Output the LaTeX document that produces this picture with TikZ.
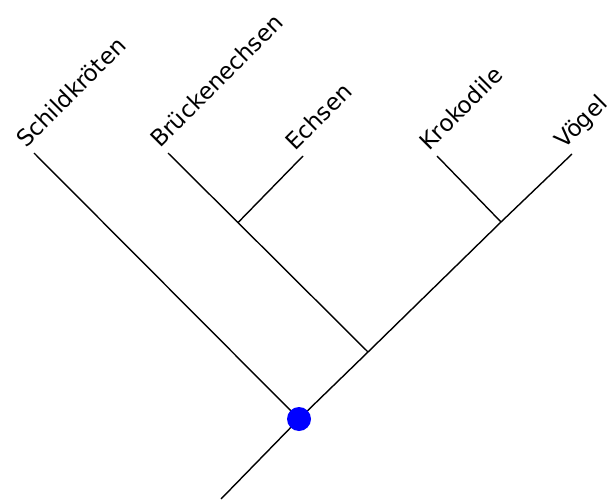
\documentclass[tikz,border=0pt]{standalone}
\usepackage{fontspec}
\setmainfont{DejaVu Sans}
\begin{document}
\begin{tikzpicture}[x=1pt,y=1pt,
  branch/.style={line width=1.4pt, black},
  taxon/.style={rotate=45, anchor=base west, inner sep=0pt, font=\fontsize{23}{23}\selectfont},
  rootdot/.style={circle, fill=blue, inner sep=0pt, minimum size=24pt}]
\useasboundingbox (0,0) rectangle (610,499);
% coordinates (image y flipped)
\coordinate (root) at (221,0);
\coordinate (A) at (299,80);
\coordinate (B) at (368,147);
\coordinate (C) at (501,277);
\coordinate (D) at (238,276.4);
\coordinate (schild) at (34,346);
\coordinate (brueck) at (168,346);
\coordinate (echsen) at (303,343);
\coordinate (kroko) at (437,343);
\coordinate (voegel) at (572,345);
\draw[branch] (root) -- (A);
\draw[branch] (A) -- (schild);
\draw[branch] (A) -- (B);
\draw[branch] (B) -- (C);
\draw[branch] (C) -- (voegel);
\draw[branch] (C) -- (kroko);
\draw[branch] (B) -- (D);
\draw[branch] (D) -- (brueck);
\draw[branch] (D) -- (echsen);
\node[rootdot] (dot) at (A) {};
\node[taxon] (tschild) at ([shift={(-8,4)}]schild) {Schildkröten};
\node[taxon] (tbrueck) at ([shift={(-8,4)}]brueck) {Brückenechsen};
\node[taxon] (techsen) at ([shift={(-8,4)}]echsen) {Echsen};
\node[taxon] (tkroko) at ([shift={(-8,4)}]kroko) {Krokodile};
\node[taxon] (tvoegel) at ([shift={(-8,4)}]voegel) {Vögel};
\end{tikzpicture}
\end{document}
